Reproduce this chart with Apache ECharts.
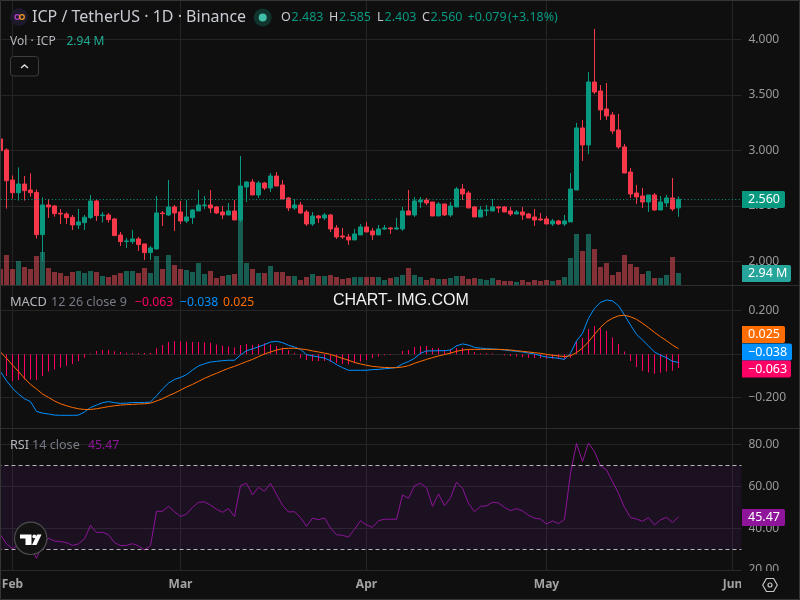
<!DOCTYPE html>
<html>
<head>
<meta charset="utf-8">
<style>html,body{margin:0;padding:0;background:#0f0f0f}#chart{width:800px;height:600px}</style>
<script src="https://cdn.jsdelivr.net/npm/echarts@6/dist/echarts.min.js"></script>
</head>
<body>
<div id="chart"></div>
<script>
// ICP / TetherUS daily, first candle is Jan 30
var monthNames = ['Feb', 'Mar', 'Apr', 'May', 'Jun'];
var monthTicks = ['2025-02-01', '2025-03-01', '2025-04-01', '2025-05-01', '2025-06-01'];
var priceTicks = [2, 2.5, 3, 3.5, 4];
var macdTicks = [-0.2, 0, 0.2];
var rsiTicks = [20, 40, 60, 80];
var rsiBand = [30, 70];
var lastPrice = 2.56;

var opens = [3.104,3.005,2.734,2.620,2.698,2.644,2.623,2.242,2.509,2.500,
  2.434,2.428,2.398,2.329,2.350,2.395,2.545,2.413,2.419,2.383,
  2.239,2.179,2.179,2.203,2.158,2.080,2.113,2.437,2.419,2.491,
  2.446,2.365,2.395,2.455,2.503,2.509,2.491,2.446,2.419,2.455,
  2.374,2.671,2.716,2.599,2.707,2.662,2.770,2.689,2.572,2.482,
  2.509,2.446,2.338,2.410,2.392,2.419,2.302,2.230,2.221,2.194,
  2.239,2.311,2.275,2.239,2.293,2.302,2.293,2.293,2.455,2.419,
  2.536,2.554,2.536,2.410,2.518,2.419,2.491,2.653,2.617,2.491,
  2.401,2.458,2.455,2.491,2.491,2.455,2.428,2.446,2.428,2.401,
  2.383,2.383,2.338,2.365,2.338,2.356,2.644,3.203,3.050,3.617,
  3.536,3.374,3.320,3.185,3.032,2.806,2.617,2.590,2.536,2.599,
  2.464,2.527,2.572,2.483];
var closes = [2.998,2.728,2.620,2.698,2.638,2.620,2.242,2.509,2.491,2.431,
  2.428,2.395,2.329,2.356,2.398,2.545,2.413,2.419,2.377,2.233,
  2.179,2.185,2.203,2.152,2.080,2.122,2.437,2.431,2.491,2.437,
  2.365,2.401,2.464,2.509,2.509,2.482,2.437,2.419,2.455,2.374,
  2.680,2.716,2.599,2.707,2.662,2.770,2.680,2.563,2.482,2.509,
  2.437,2.338,2.410,2.392,2.419,2.293,2.221,2.221,2.194,2.248,
  2.311,2.266,2.239,2.293,2.302,2.293,2.302,2.455,2.419,2.545,
  2.554,2.527,2.410,2.518,2.419,2.500,2.653,2.608,2.482,2.401,
  2.464,2.464,2.491,2.482,2.446,2.428,2.446,2.419,2.392,2.374,
  2.374,2.338,2.365,2.338,2.365,2.653,3.203,3.050,3.617,3.527,
  3.365,3.311,3.176,3.032,2.797,2.608,2.581,2.536,2.599,2.464,
  2.536,2.572,2.473,2.560];
var lows = [2.998,2.476,2.566,2.548,2.548,2.584,2.206,2.005,2.392,2.404,
  2.338,2.338,2.284,2.293,2.284,2.383,2.365,2.350,2.350,2.230,
  2.140,2.122,2.158,2.095,2.014,2.014,2.104,2.320,2.410,2.275,
  2.338,2.347,2.338,2.455,2.473,2.437,2.428,2.383,2.419,2.374,
  2.356,2.536,2.599,2.572,2.644,2.626,2.680,2.563,2.455,2.464,
  2.428,2.320,2.320,2.347,2.374,2.266,2.203,2.203,2.149,2.194,
  2.239,2.266,2.194,2.239,2.284,2.248,2.284,2.275,2.419,2.401,
  2.482,2.509,2.410,2.410,2.410,2.401,2.491,2.554,2.482,2.401,
  2.401,2.410,2.455,2.437,2.446,2.410,2.428,2.374,2.392,2.320,
  2.365,2.338,2.320,2.329,2.320,2.356,2.644,2.905,2.968,3.509,
  3.275,3.275,3.149,3.014,2.797,2.572,2.518,2.482,2.446,2.455,
  2.464,2.491,2.455,2.403];
var highs = [3.104,3.020,2.776,2.848,2.770,2.794,2.650,2.578,2.560,2.509,
  2.473,2.443,2.419,2.473,2.419,2.599,2.554,2.446,2.437,2.392,
  2.266,2.212,2.284,2.221,2.158,2.140,2.590,2.455,2.734,2.509,
  2.545,2.554,2.473,2.644,2.590,2.644,2.500,2.500,2.527,2.554,
  2.950,2.725,2.743,2.725,2.716,2.797,2.806,2.734,2.581,2.563,
  2.536,2.464,2.446,2.419,2.437,2.428,2.329,2.302,2.248,2.293,
  2.338,2.356,2.302,2.329,2.329,2.311,2.392,2.491,2.644,2.581,
  2.581,2.572,2.536,2.536,2.518,2.536,2.671,2.698,2.635,2.500,
  2.500,2.509,2.563,2.500,2.500,2.491,2.464,2.491,2.437,2.473,
  2.437,2.410,2.383,2.374,2.419,2.797,3.248,3.275,3.707,4.095,
  3.590,3.608,3.347,3.329,3.059,2.842,2.689,2.662,2.599,2.617,
  2.590,2.599,2.752,2.585];
// volume in millions
var volumes = [3.92,7.35,3.92,5.88,4.41,3.92,7.11,8.09,4.17,3.19,
  2.94,2.21,3.19,3.43,2.94,3.43,3.19,2.21,1.96,2.45,
  2.94,3.43,3.43,2.94,4.17,2.94,7.11,3.92,7.35,4.90,
  3.92,3.68,3.19,5.39,2.70,3.43,1.72,2.21,2.45,2.70,
  15.93,5.39,3.92,2.94,2.94,4.66,3.19,3.19,2.21,2.21,
  1.23,1.96,2.70,2.21,2.21,2.45,1.96,1.47,1.72,1.96,
  1.96,1.96,1.96,1.96,1.23,1.72,1.96,2.45,4.17,2.45,
  1.96,1.23,1.72,1.47,1.47,1.72,2.21,2.21,1.47,1.72,
  1.47,1.23,1.72,1.23,0.98,0.98,0.74,1.23,0.74,1.23,
  0.98,1.23,0.98,1.23,1.96,6.62,12.5,8.33,12.5,8.82,
  4.41,5.39,2.45,3.19,7.35,5.15,4.41,2.70,3.43,1.72,
  1.72,2.45,6.86,2.94];
var macdLine = [-0.080,-0.122,-0.157,-0.183,-0.205,-0.218,-0.263,-0.271,-0.275,-0.280,
  -0.281,-0.281,-0.281,-0.280,-0.266,-0.245,-0.234,-0.223,-0.218,-0.223,
  -0.226,-0.225,-0.222,-0.222,-0.222,-0.220,-0.191,-0.160,-0.133,-0.116,
  -0.107,-0.094,-0.073,-0.054,-0.044,-0.036,-0.033,-0.030,-0.028,-0.028,
  -0.004,0.016,0.024,0.034,0.044,0.056,0.059,0.053,0.041,0.033,
  0.022,-0.002,-0.008,-0.013,-0.018,-0.030,-0.048,-0.062,-0.074,-0.074,
  -0.074,-0.074,-0.071,-0.070,-0.067,-0.065,-0.061,-0.045,-0.034,-0.019,
  0.004,0.015,0.015,0.016,0.016,0.019,0.038,0.047,0.042,0.031,
  0.028,0.025,0.024,0.022,0.019,0.016,0.013,0.010,0.005,0.001,
  -0.007,-0.013,-0.016,-0.019,-0.024,0.004,0.061,0.096,0.165,0.211,
  0.238,0.249,0.245,0.223,0.180,0.134,0.091,0.065,0.038,0.010,
  -0.005,-0.016,-0.033,-0.038];
var signalLine = [0.010,-0.019,-0.050,-0.080,-0.111,-0.139,-0.160,-0.183,-0.199,-0.215,
  -0.228,-0.237,-0.245,-0.251,-0.254,-0.254,-0.251,-0.246,-0.241,-0.237,
  -0.234,-0.232,-0.231,-0.229,-0.228,-0.225,-0.215,-0.205,-0.191,-0.179,
  -0.165,-0.151,-0.139,-0.125,-0.111,-0.099,-0.088,-0.076,-0.065,-0.056,
  -0.045,-0.034,-0.024,-0.011,0.001,0.010,0.019,0.025,0.027,0.027,
  0.024,0.021,0.015,0.010,0.005,-0.001,-0.010,-0.019,-0.028,-0.038,
  -0.045,-0.051,-0.056,-0.059,-0.061,-0.062,-0.062,-0.059,-0.053,-0.042,
  -0.033,-0.024,-0.016,-0.008,-0.002,0.005,0.013,0.019,0.022,0.022,
  0.022,0.022,0.022,0.022,0.021,0.019,0.016,0.013,0.010,0.007,
  0.004,-0.001,-0.005,-0.008,-0.011,-0.007,0.007,0.028,0.057,0.091,
  0.123,0.149,0.165,0.176,0.179,0.172,0.160,0.142,0.122,0.100,
  0.080,0.062,0.042,0.025];
var macdHist = [-0.090,-0.100,-0.123,-0.119,-0.116,-0.116,-0.119,-0.100,-0.080,-0.070,
  -0.061,-0.053,-0.045,-0.031,-0.016,0.003,0.015,0.019,0.019,0.013,
  0.010,0.007,0.005,0.005,0.005,0.007,0.027,0.042,0.056,0.059,
  0.059,0.057,0.056,0.056,0.054,0.053,0.045,0.039,0.034,0.031,
  0.042,0.047,0.042,0.047,0.050,0.045,0.038,0.031,0.018,0.005,
  -0.019,-0.027,-0.031,-0.031,-0.031,-0.036,-0.041,-0.045,-0.048,-0.042,
  -0.034,-0.027,-0.018,-0.011,-0.005,-0.004,-0.002,0.015,0.019,0.033,
  0.038,0.038,0.028,0.028,0.019,0.022,0.028,0.028,0.022,0.010,
  0.004,0.004,0.004,-0.002,-0.005,-0.008,-0.011,-0.013,-0.016,-0.018,
  -0.019,-0.021,-0.021,-0.021,-0.021,-0.016,0.057,0.073,0.116,0.130,
  0.119,0.108,0.077,0.047,0.012,-0.031,-0.059,-0.077,-0.084,-0.090,
  -0.085,-0.080,-0.076,-0.063];
var rsiValues = [36.8,32.5,30.2,32.0,32.8,31.2,25.6,32.0,35.2,33.9,
  33.6,33.1,31.8,32.5,34.9,41.4,37.9,38.1,36.9,33.1,
  31.7,31.8,32.6,31.5,29.6,31.7,48.1,48.1,50.5,47.9,
  45.6,46.8,50.0,52.4,52.6,51.1,49.1,47.6,49.4,45.6,
  60.4,61.5,55.9,59.6,57.7,61.5,56.2,51.0,47.8,47.9,
  45.1,40.9,44.8,44.1,44.9,40.1,36.9,36.6,35.8,39.5,
  43.6,41.6,40.4,43.6,44.3,44.3,44.3,55.9,54.3,60.4,
  61.5,59.4,50.5,56.4,50.8,54.6,62.1,59.1,51.9,47.9,
  50.5,50.7,52.4,52.1,50.0,48.4,49.4,48.3,46.2,44.8,
  44.4,42.0,43.5,42.2,44.3,66.3,80.6,71.9,80.8,76.7,
  69.8,67.9,62.3,56.7,50.0,45.1,44.4,43.3,45.1,41.6,
  44.0,45.2,42.7,45.47];

// one category per day, Jan 30 up to the right edge of the panes
var categories = [];
for (var i = 0; i < 124; i++) {
    categories.push(new Date(Date.UTC(2025, 0, 30 + i)).toISOString().slice(0, 10));
}

var UP = '#089981', DOWN = '#f7374a';
var GRID = '#252525';
var FONT = '"Noto Sans", sans-serif';

var candleData = opens.map(function (o, i) { return [o, closes[i], lows[i], highs[i]]; });
var volumeData = volumes.map(function (v, i) {
    return {value: v, itemStyle: {color: closes[i] >= opens[i] ? 'rgba(34,171,148,0.5)' : 'rgba(247,82,95,0.5)'}};
});

var myChart = echarts.init(document.getElementById('chart'));

function makeXAxis(gridIndex, withLabels) {
    return {
        type: 'category',
        gridIndex: gridIndex,
        data: categories,
        boundaryGap: true,
        axisLine: {show: false},
        axisTick: {show: false},
        splitLine: {show: false},
        axisLabel: {
            show: withLabels,
            customValues: monthTicks,
            margin: 9,
            color: '#a3a3a3',
            fontFamily: FONT,
            fontSize: 12,
            fontWeight: 'bold',
            formatter: function (v) { return monthNames[monthTicks.indexOf(v)]; }
        }
    };
}

function makeYAxis(gridIndex, min, max, ticks, fmt) {
    return {
        type: 'value',
        gridIndex: gridIndex,
        position: 'right',
        min: min,
        max: max,
        axisLine: {show: false},
        axisTick: {show: false, customValues: ticks},
        splitLine: {show: true, lineStyle: {color: GRID, width: 1}},
        axisLabel: {
            customValues: ticks,
            margin: 7,
            padding: [3, 0, 0, 0],
            color: '#9a9a9a',
            fontFamily: FONT,
            fontSize: 12,
            formatter: fmt
        }
    };
}

// vertical month gridlines, on the day centre of each pane
function monthLines(xIndex, yIndex) {
    return {
        type: 'line', xAxisIndex: xIndex, yAxisIndex: yIndex, data: [], z: 0,
        markLine: {
            silent: true, symbol: 'none', animation: false, z: 0,
            label: {show: false},
            lineStyle: {color: GRID, type: 'solid', width: 1},
            data: monthTicks.map(function (d) { return {xAxis: d}; })
        }
    };
}

function minusFmt(digits) {
    return function (v) { return (v < 0 ? '\u2212' : '') + Math.abs(v).toFixed(digits); };
}

function text(x, y, str, color, size, weight, family) {
    return {
        type: 'text', x: x, y: y, z: 100, silent: true,
        style: {
            text: str, fill: color, font: (weight || 'normal') + ' ' + (size || 12) + 'px ' + (family || FONT),
            textVerticalAlign: 'middle'
        }
    };
}

function tag(x, y, w, h, color, str, textColor) {
    return [
        {type: 'rect', z: 101, silent: true, shape: {x: x, y: y, width: w, height: h, r: [0, 2, 2, 0]}, style: {fill: color}},
        {type: 'text', x: x + 6, y: y + h / 2, z: 102, silent: true,
            style: {text: str, fill: textColor || '#fff', font: '12.5px ' + FONT, textVerticalAlign: 'middle'}}
    ];
}

function sepLine(y) {
    return {type: 'line', z: 99, silent: true, shape: {x1: 0, y1: y, x2: 800, y2: y}, style: {stroke: '#2e2e2e', lineWidth: 1}};
}

var graphics = [
    // cover below the price scale, the 20.00 label is cut by the time axis
    {type: 'rect', z: 98, silent: true, shape: {x: 741, y: 571, width: 59, height: 29}, style: {fill: '#0f0f0f'}},
    sepLine(285.5), sepLine(428.5),
    {type: 'line', z: 99, silent: true, shape: {x1: 0, y1: 570.5, x2: 741, y2: 570.5}, style: {stroke: '#2a2a2a', lineWidth: 1}},
    {type: 'rect', z: 120, silent: true, shape: {x: 0.5, y: 0.5, width: 799, height: 599}, style: {fill: 'none', stroke: '#353535', lineWidth: 1}},

    // symbol logo
    {type: 'circle', z: 100, silent: true, shape: {cx: 19, cy: 17, r: 9}, style: {fill: '#1c1a2b'}},
    {type: 'circle', z: 101, silent: true, shape: {cx: 17.3, cy: 17, r: 2.3}, style: {fill: 'none', stroke: '#b33cc4', lineWidth: 1.3}},
    {type: 'circle', z: 101, silent: true, shape: {cx: 22, cy: 17, r: 2.3}, style: {fill: 'none', stroke: '#f29a1f', lineWidth: 1.3}},
    text(32, 17.5, 'ICP / TetherUS \u00b7 1D \u00b7 Binance', '#c9cbd2', 16),
    {type: 'circle', z: 100, silent: true, shape: {cx: 262.7, cy: 17.5, r: 9}, style: {fill: '#12342f'}},
    {type: 'circle', z: 101, silent: true, shape: {cx: 262.7, cy: 17.5, r: 4}, style: {fill: '#42bda8'}},

    text(281, 17.5, 'O', '#c9cbd2', 12.5), text(291.5, 17.5, '2.483', UP, 12.5),
    text(329, 17.5, 'H', '#c9cbd2', 12.5), text(339, 17.5, '2.585', UP, 12.5),
    text(377, 17.5, 'L', '#c9cbd2', 12.5), text(384.5, 17.5, '2.403', UP, 12.5),
    text(422, 17.5, 'C', '#c9cbd2', 12.5), text(430.5, 17.5, '2.560', UP, 12.5),
    text(467.5, 17.5, '+0.079', UP, 12.5), text(508, 17.5, '(+3.18%)', UP, 12.5),

    text(10, 41.5, 'Vol \u00b7 ICP', '#b4b6bd', 12), text(66.5, 41.5, '2.94 M', '#22ab94', 12),
    {type: 'rect', z: 100, silent: true, shape: {x: 10.5, y: 56.5, width: 28, height: 19.5, r: 3}, style: {fill: '#0f0f0f', stroke: '#3d3d3d', lineWidth: 1}},
    {type: 'polyline', z: 101, silent: true, shape: {points: [[21, 68], [24.5, 65], [28, 68]]}, style: {fill: 'none', stroke: '#dcdcdc', lineWidth: 1.5}},

    text(10, 302.5, 'MACD', '#b4b6bd', 12.8), text(51, 302.5, '12 26 close 9', '#787b86', 12.6),
    text(135, 302.5, '\u22120.063', '#ff0066', 12.2), text(180, 302.5, '\u22120.038', '#0091ff', 12.2), text(223, 302.5, '0.025', '#ff6d00', 12.2),
    text(333, 300.5, 'CHART- IMG.COM', '#f2f2f2', 16, 'normal', '"Liberation Sans", Arial, sans-serif'),

    text(10, 445.5, 'RSI', '#b4b6bd', 12.6), text(32, 445.5, '14 close', '#787b86', 12.6), text(88, 445.5, '45.47', '#8e1599', 12.2),

    // TradingView badge
    {type: 'circle', z: 100, silent: true, shape: {cx: 30.7, cy: 538.3, r: 16.2}, style: {fill: '#131313', stroke: '#4d4d4d', lineWidth: 1.2}},
    {type: 'polygon', z: 101, silent: true, shape: {points: [[20, 534.5], [31.5, 534.5], [31.5, 545], [25.5, 545], [25.5, 538.5], [20, 538.5]]}, style: {fill: '#fff'}},
    {type: 'circle', z: 101, silent: true, shape: {cx: 34.3, cy: 536.4, r: 1.9}, style: {fill: '#fff'}},
    {type: 'polygon', z: 101, silent: true, shape: {points: [[37, 534.5], [41.5, 534.5], [36.5, 545], [32, 545]]}, style: {fill: '#fff'}},

    // settings icon
    {type: 'polygon', z: 101, silent: true, shape: {points: [[762.7, 585], [766.4, 578.5], [773.6, 578.5], [777.3, 585], [773.6, 591.5], [766.4, 591.5]]}, style: {fill: 'none', stroke: '#c4c4c4', lineWidth: 1.2}},
    {type: 'circle', z: 101, silent: true, shape: {cx: 770, cy: 585, r: 2}, style: {fill: 'none', stroke: '#c4c4c4', lineWidth: 1.2}}
].concat(
    tag(742, 191, 43, 17, UP, '2.560'),
    tag(742, 265, 49, 17, '#26a69a', '2.94 M'),
    tag(742, 326, 43, 17, '#ff6d00', '0.025'),
    tag(742, 343.5, 50, 17, '#0091ff', '\u22120.038'),
    tag(742, 360.5, 49, 17, '#ff0066', '\u22120.063'),
    tag(742, 509, 43, 17, '#8e1599', '45.47')
);

var option = {
    backgroundColor: '#0f0f0f',
    animation: false,
    grid: [
        {left: -2.5, top: 0, width: 744, height: 285, outerBoundsMode: 'none'},   // price
        {left: -2.5, top: 0, width: 744, height: 285, outerBoundsMode: 'none'},   // volume, same pane
        {left: -2.5, top: 286, width: 744, height: 142, outerBoundsMode: 'none'}, // macd
        {left: -2.5, top: 429, width: 744, height: 141, outerBoundsMode: 'none'}  // rsi
    ],
    xAxis: [makeXAxis(0, false), Object.assign(makeXAxis(1, false), {show: false}), makeXAxis(2, false), makeXAxis(3, true)],
    yAxis: [
        makeYAxis(0, 1.788, 4.356, priceTicks, function (v) { return v.toFixed(3); }),
        {type: 'value', gridIndex: 1, show: false, min: 0, max: 69.8},
        makeYAxis(2, -0.3393, 0.3133, macdTicks, function (v) { return v === 0 ? '' : minusFmt(3)(v); }),
        makeYAxis(3, 20, 87.5, rsiTicks, function (v) { return v.toFixed(2); })
    ],
    series: [
        monthLines(0, 0), monthLines(2, 2), monthLines(3, 3),
        {type: 'bar', name: 'Vol', xAxisIndex: 1, yAxisIndex: 1, barWidth: 5, data: volumeData, z: 1},
        {
            type: 'candlestick', name: 'ICP', xAxisIndex: 0, yAxisIndex: 0, barWidth: 4, data: candleData, z: 2,
            itemStyle: {color: UP, color0: DOWN, borderColor: UP, borderColor0: DOWN, borderWidth: 1},
            markLine: {
                silent: true, symbol: 'none', animation: false,
                label: {show: false},
                lineStyle: {color: '#0f9a83', type: [1, 2.4], width: 1},
                data: [{yAxis: lastPrice}]
            }
        },
        {type: 'bar', name: 'Histogram', xAxisIndex: 2, yAxisIndex: 2, barWidth: 1, data: macdHist, itemStyle: {color: '#ff0066'}, z: 2},
        {type: 'line', name: 'MACD', xAxisIndex: 2, yAxisIndex: 2, data: macdLine, symbol: 'none', lineStyle: {color: '#0091ff', width: 1}, z: 3},
        {type: 'line', name: 'Signal', xAxisIndex: 2, yAxisIndex: 2, data: signalLine, symbol: 'none', lineStyle: {color: '#ff6d00', width: 1}, z: 3},
        {
            type: 'line', name: 'RSI', xAxisIndex: 3, yAxisIndex: 3, data: rsiValues, symbol: 'none', z: 3,
            lineStyle: {color: '#8e1599', width: 1},
            markArea: {
                silent: true,
                itemStyle: {color: 'rgba(126,40,180,0.11)'},
                data: [[{yAxis: rsiBand[0]}, {yAxis: rsiBand[1]}]]
            },
            markLine: {
                silent: true, symbol: 'none', animation: false,
                label: {show: false},
                lineStyle: {color: '#b9b2bf', type: [4, 3], width: 1},
                data: [{yAxis: rsiBand[0]}, {yAxis: rsiBand[1]}]
            }
        }
    ],
    graphic: graphics
};

myChart.setOption(option);
</script>
</body>
</html>
